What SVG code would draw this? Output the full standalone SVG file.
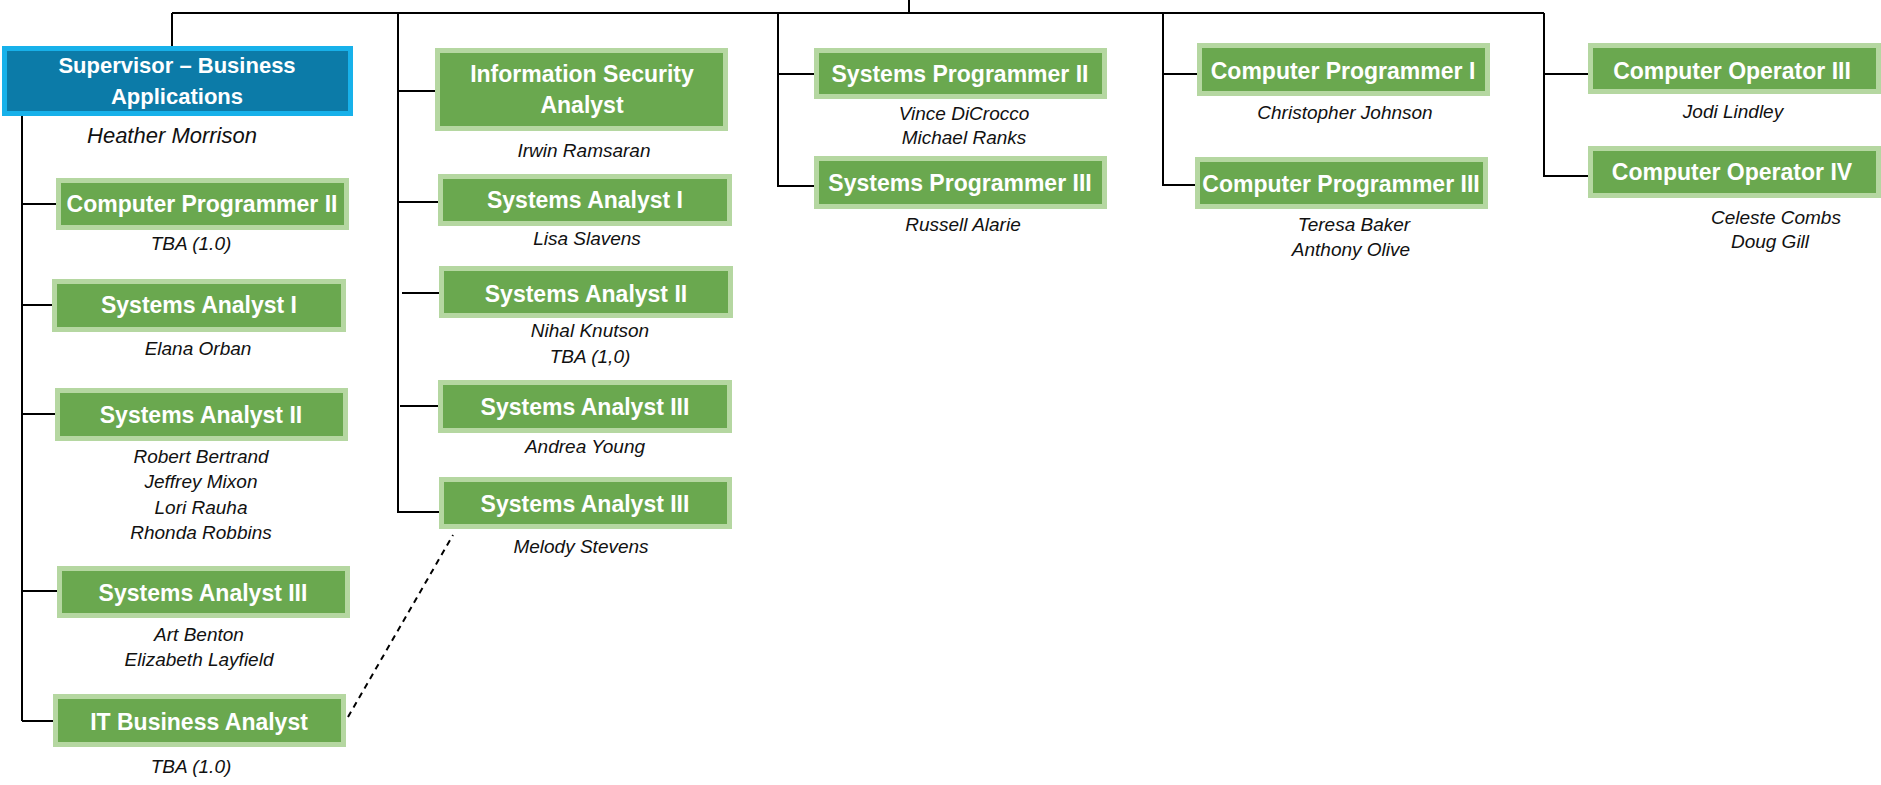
<svg xmlns="http://www.w3.org/2000/svg" width="1881" height="785" viewBox="0 0 1881 785">
<style>
.g{fill:#6aa84f;stroke:#b5d7a1;stroke-width:5}
.s{fill:#0c7ba8;stroke:#17b1ea;stroke-width:5}
.t{font-family:"Liberation Sans",Arial,sans-serif;font-weight:bold;font-size:23px;fill:#ffffff;text-anchor:middle}
.n{font-family:"Liberation Sans",Arial,sans-serif;font-style:italic;font-size:19px;fill:#111111;text-anchor:middle}
.c{fill:none;stroke:#000;stroke-width:2}
.d{fill:none;stroke:#000;stroke-width:2;stroke-dasharray:6 5}
</style>
<rect width="1881" height="785" fill="#ffffff"/>
<g id="connectors">
<path class="c" d="M909 0V13M172 13H1544M172 13V46"/>
<path class="c" d="M22 116V721M22 204H56M22 305H52M22 414H55M22 591H57M22 721H53"/>
<path class="c" d="M398 13V512H439M398 91H435M398 202H438M402 293H439M400 406H438"/>
<path class="c" d="M778 13V186H814M778 74H814"/>
<path class="c" d="M1163 13V185H1195M1163 74H1197"/>
<path class="c" d="M1544 13V176H1588M1544 74H1588"/>
<path class="d" d="M348 717L453 535"/>
</g>
<g id="supervisor">
<rect class="s" x="4.5" y="48.5" width="346" height="65"/>
<text class="t" x="177" y="73" style="font-size:22px">Supervisor – Business</text>
<text class="t" x="177" y="104" style="font-size:22px">Applications</text>
<text class="n" x="172" y="143" style="font-size:22px">Heather Morrison</text>
</g>
<g id="cp2">
<rect class="g" x="58.5" y="180.5" width="288" height="47"/>
<text class="t" x="202" y="212">Computer Programmer II</text>
<text class="n" x="191" y="250">TBA (1.0)</text>
</g>
<g id="sa1-left">
<rect class="g" x="54.5" y="281.5" width="289" height="48"/>
<text class="t" x="199" y="313">Systems Analyst I</text>
<text class="n" x="198" y="355">Elana Orban</text>
</g>
<g id="sa2-left">
<rect class="g" x="57.5" y="390.5" width="288" height="48"/>
<text class="t" x="201" y="423">Systems Analyst II</text>
<text class="n" x="201" y="463">Robert Bertrand</text>
<text class="n" x="201" y="488">Jeffrey Mixon</text>
<text class="n" x="201" y="514">Lori Rauha</text>
<text class="n" x="201" y="539">Rhonda Robbins</text>
</g>
<g id="sa3-left">
<rect class="g" x="59.5" y="568.5" width="288" height="47"/>
<text class="t" x="203" y="601">Systems Analyst III</text>
<text class="n" x="199" y="641">Art Benton</text>
<text class="n" x="199" y="666">Elizabeth Layfield</text>
</g>
<g id="itba">
<rect class="g" x="55.5" y="696.5" width="288" height="48"/>
<text class="t" x="199" y="730">IT Business Analyst</text>
<text class="n" x="191" y="773">TBA (1.0)</text>
</g>
<g id="isa">
<rect class="g" x="437.5" y="50.5" width="288" height="78"/>
<text class="t" x="582" y="82">Information Security</text>
<text class="t" x="582" y="113">Analyst</text>
<text class="n" x="584" y="157">Irwin Ramsaran</text>
</g>
<g id="sa1-mid">
<rect class="g" x="440.5" y="176.5" width="289" height="47"/>
<text class="t" x="585" y="208">Systems Analyst I</text>
<text class="n" x="587" y="245">Lisa Slavens</text>
</g>
<g id="sa2-mid">
<rect class="g" x="441.5" y="268.5" width="289" height="47"/>
<text class="t" x="586" y="302">Systems Analyst II</text>
<text class="n" x="590" y="337">Nihal Knutson</text>
<text class="n" x="590" y="363">TBA (1,0)</text>
</g>
<g id="sa3-mid-a">
<rect class="g" x="440.5" y="382.5" width="289" height="48"/>
<text class="t" x="585" y="415">Systems Analyst III</text>
<text class="n" x="585" y="453">Andrea Young</text>
</g>
<g id="sa3-mid-b">
<rect class="g" x="441.5" y="479.5" width="288" height="47"/>
<text class="t" x="585" y="512">Systems Analyst III</text>
<text class="n" x="581" y="553">Melody Stevens</text>
</g>
<g id="sp2">
<rect class="g" x="816.5" y="50.5" width="288" height="46"/>
<text class="t" x="960" y="82">Systems Programmer II</text>
<text class="n" x="964" y="120">Vince DiCrocco</text>
<text class="n" x="964" y="144">Michael Ranks</text>
</g>
<g id="sp3">
<rect class="g" x="816.5" y="158.5" width="288" height="48"/>
<text class="t" x="960" y="191">Systems Programmer III</text>
<text class="n" x="963" y="231">Russell Alarie</text>
</g>
<g id="cp1">
<rect class="g" x="1199.5" y="45.5" width="288" height="48"/>
<text class="t" x="1343" y="79">Computer Programmer I</text>
<text class="n" x="1345" y="119">Christopher Johnson</text>
</g>
<g id="cp3">
<rect class="g" x="1197.5" y="159.5" width="288" height="47"/>
<text class="t" x="1341" y="192">Computer Programmer III</text>
<text class="n" x="1354" y="231">Teresa Baker</text>
<text class="n" x="1351" y="256">Anthony Olive</text>
</g>
<g id="co3">
<rect class="g" x="1590.5" y="45.5" width="288" height="46"/>
<text class="t" x="1732" y="79">Computer Operator III</text>
<text class="n" x="1733" y="118">Jodi Lindley</text>
</g>
<g id="co4">
<rect class="g" x="1590.5" y="148.5" width="288" height="47"/>
<text class="t" x="1732" y="180">Computer Operator IV</text>
<text class="n" x="1776" y="224">Celeste Combs</text>
<text class="n" x="1770" y="248">Doug Gill</text>
</g>
</svg>
